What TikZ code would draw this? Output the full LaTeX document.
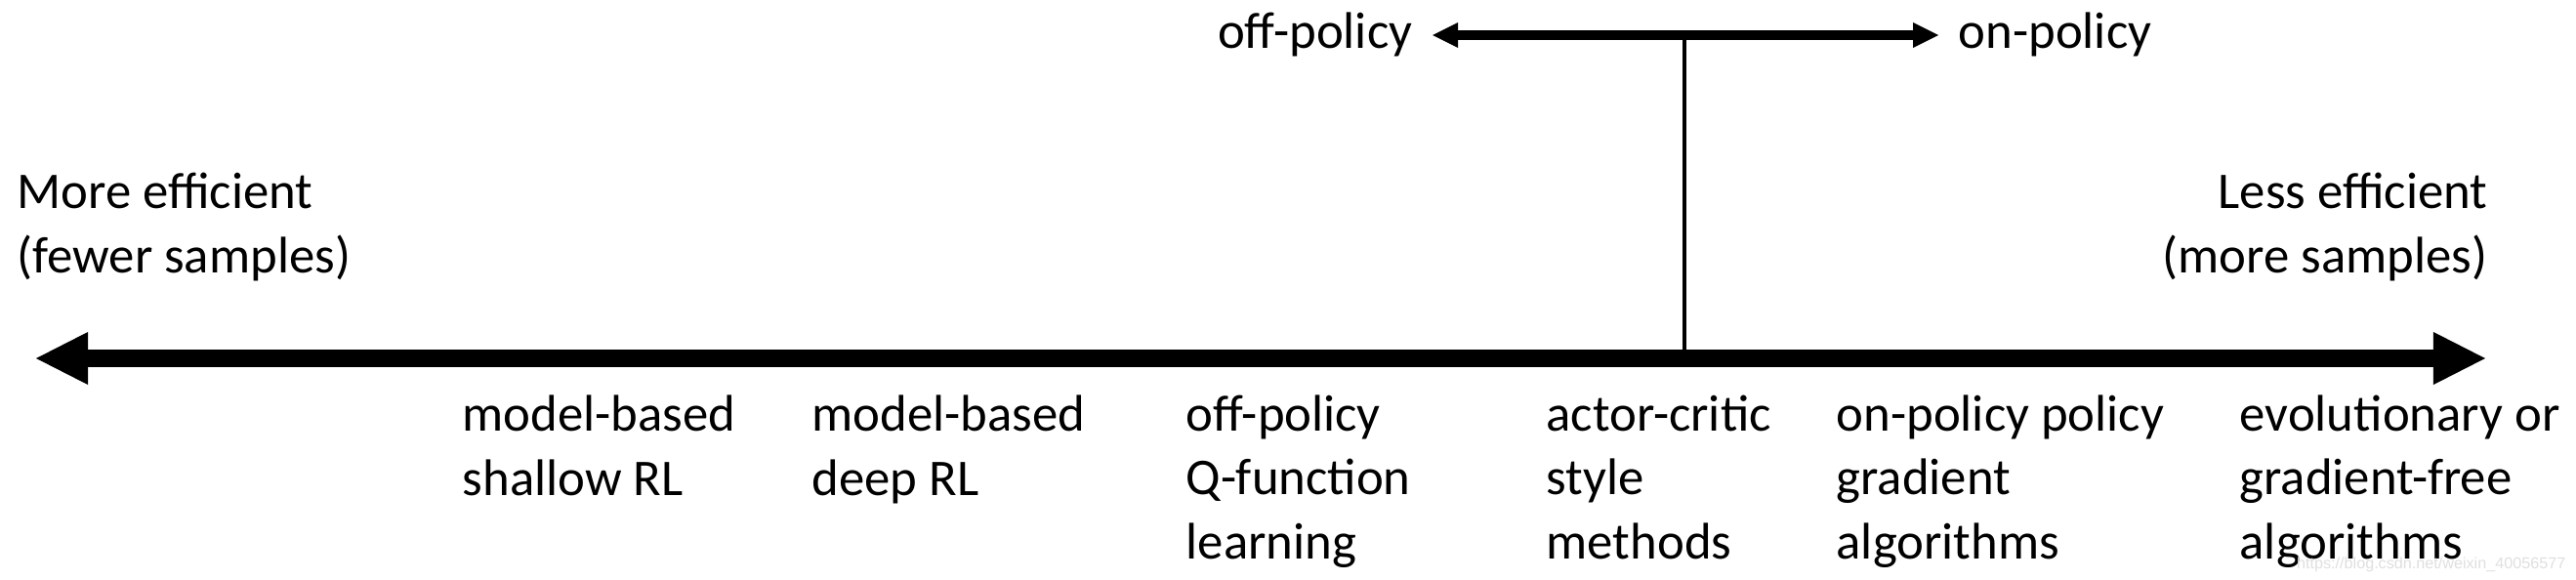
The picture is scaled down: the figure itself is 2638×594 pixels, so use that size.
\documentclass[tikz,border=0pt]{standalone}
\usepackage{fontspec}
\setmainfont{Carlito}
\newfontfamily\wmfont{Liberation Sans}
\usetikzlibrary{arrows.meta}
\begin{document}
\begin{tikzpicture}[x=0.01cm, y=-0.01cm,
    lbl/.style={inner sep=0pt, align=left, font=\fontsize{15pt}{18.5pt}\selectfont},
    bigarrow/.style={line width=1.8mm,
      {Triangle[length=5.3mm,width=5.4mm,line width=0pt]}-{Triangle[length=5.3mm,width=5.4mm,line width=0pt]}},
    smallarrow/.style={line width=0.9mm,
      {Triangle[length=2.6mm,width=2.6mm,line width=0pt]}-{Triangle[length=2.6mm,width=2.6mm,line width=0pt]}}]
  \useasboundingbox (0,0) rectangle (2638,594);
  \coordinate (L) at (37,367);
  \coordinate (R) at (2545,367);
  \coordinate (offp) at (1467,36);
  \coordinate (onp) at (1985,36);
  \coordinate (top) at (1725,36);
  \coordinate (foot) at (1725,367);
  \draw[bigarrow] (L)--(R);
  \draw[smallarrow] (offp)--(onp);
  \draw[line width=0.45mm] (top)--(foot);
  \node[lbl, anchor=base west] (more) at (17,279) {More efficient\\(fewer samples)};
  \node[lbl, anchor=base east, align=right] (less) at (2548,279) {Less efficient\\(more samples)};
  \node[lbl, anchor=base east] (offlbl) at (1447,50) {off-policy};
  \node[lbl, anchor=base west] (onlbl) at (2005,50) {on-policy};
  \node[lbl, anchor=base west] (mbs) at (473,507) {model-based\\shallow RL};
  \node[lbl, anchor=base west] (mbd) at (831,507) {model-based\\deep RL};
  \node[lbl, anchor=base west] (offq) at (1214,572) {off-policy\\Q-function\\learning};
  \node[lbl, anchor=base west] (ac) at (1583,572) {actor-critic\\style\\methods};
  \node[lbl, anchor=base west] (onpg) at (1880,572) {on-policy policy\\gradient\\algorithms};
  \node[lbl, anchor=base west] (evo) at (2293,572) {evolutionary or\\gradient-free\\algorithms};
  \node[inner sep=0pt, anchor=base east, font=\wmfont\fontsize{4.6pt}{5pt}\selectfont, text=gray!25] (wm) at (2628,582) {https://blog.csdn.net/weixin\_40056577};
\end{tikzpicture}
\end{document}
